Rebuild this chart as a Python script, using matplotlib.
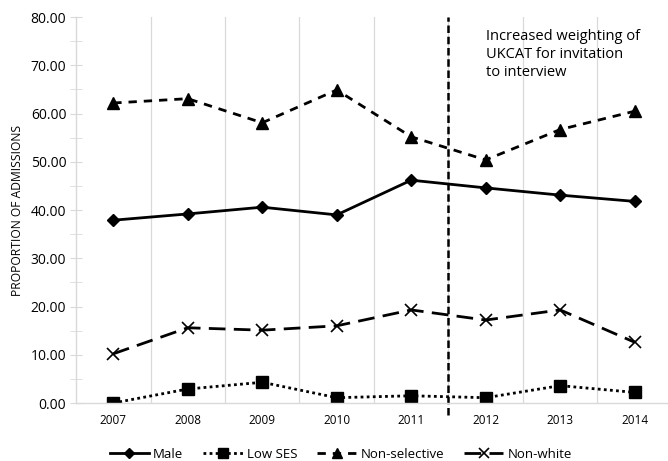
import matplotlib
matplotlib.use("Agg")
import matplotlib.pyplot as plt
from matplotlib.ticker import MultipleLocator, FormatStrFormatter

plt.rcParams['font.family'] = ['Open Sans', 'DejaVu Sans']

# data
years = ['2007', '2008', '2009', '2010', '2011', '2012', '2013', '2014']
male = [37.9, 39.2, 40.6, 39.0, 46.2, 44.6, 43.1, 41.8]
low_ses = [0.0, 2.9, 4.3, 1.1, 1.5, 1.1, 3.6, 2.2]
non_selective = [62.2, 63.1, 58.1, 64.9, 55.2, 50.4, 56.7, 60.5]
non_white = [10.2, 15.6, 15.1, 16.0, 19.3, 17.2, 19.3, 12.6]
policy_change = 4.5  # between 2011 and 2012
note = 'Increased weighting of\nUKCAT for invitation\nto interview'

fig = plt.figure(figsize=(6.68, 4.61), dpi=100)
ax = fig.add_axes([0.1138, 0.1258, 0.892, 0.837])

x = range(len(years))
lw = 2.0
ax.plot(x, male, color='black', lw=lw, ls='-', marker='D', ms=6, label='Male')
ax.plot(x, low_ses, color='black', lw=lw, ls=(0, (1, 1.2)), marker='s', ms=8, label='Low SES')
ax.plot(x, non_selective, color='black', lw=lw, ls=(0, (3, 2.5)), marker='^', ms=8, label='Non-selective')
ax.plot(x, non_white, color='black', lw=lw, ls=(0, (6, 3)), marker='x', ms=8, mew=1.2, label='Non-white')

ax.axvline(policy_change, ymin=-0.03, ymax=1, color='black', lw=1.8, ls=(0, (3, 1.5)), clip_on=False)
ax.text(5.0, 77.5, note, fontsize=10.5, va='top', ha='left', linespacing=1.25)

ax.set_xlim(-0.5, len(years) - 0.5)
ax.set_ylim(0, 80)
ax.set_xticks(list(x))
ax.set_xticklabels(years, fontsize=8.5)
ax.tick_params(axis='x', length=0, pad=8)
ax.set_xticks([i + 0.5 for i in range(len(years) - 1)], minor=True)
ax.tick_params(axis='x', which='minor', length=0)
ax.grid(axis='x', which='minor', color='#d9d9d9', lw=0.9)

ax.yaxis.set_major_locator(MultipleLocator(10))
ax.yaxis.set_minor_locator(MultipleLocator(5))
ax.yaxis.set_major_formatter(FormatStrFormatter('%.2f'))
ax.tick_params(axis='y', which='both', direction='inout', length=8, color='#d9d9d9', labelsize=10, pad=3)
ax.set_ylabel('PROPORTION OF ADMISSIONS', fontsize=8.7, labelpad=5)

for s in ['top', 'right']:
    ax.spines[s].set_visible(False)
ax.spines['left'].set_color('#d9d9d9')
ax.spines['bottom'].set_color('#d9d9d9')
ax.spines['left'].set_linewidth(1.0)
ax.spines['bottom'].set_linewidth(1.0)

fig.legend(loc='lower center', bbox_to_anchor=(0.51, -0.025), ncol=4, frameon=False,
           fontsize=9.5, handlelength=3.0, columnspacing=1.5, handletextpad=0.3,
           markerscale=0.85)

fig.savefig('out.png', dpi=100)
